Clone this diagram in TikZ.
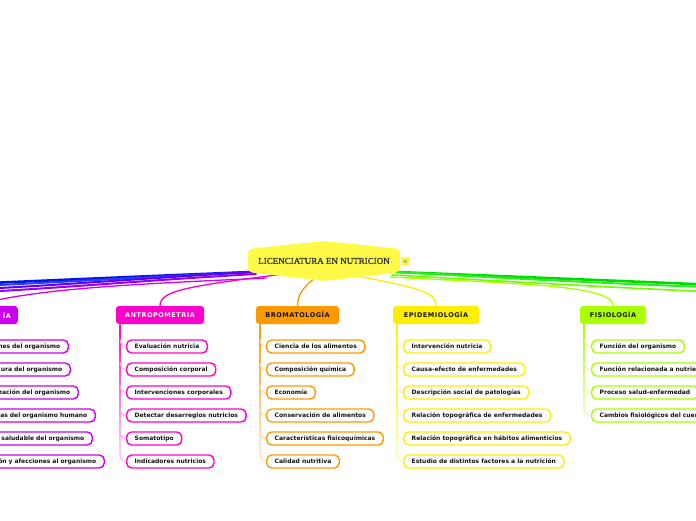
\documentclass[tikz,border=0pt]{standalone}
\usepackage{fontspec}
\setmainfont{DejaVu Sans}
\newfontfamily\topicfont{DejaVu Sans}[LetterSpace=8]
\newfontfamily\rootfont{Liberation Serif}[FakeBold=1.2]
\usetikzlibrary{calc}
\definecolor{cAna}{RGB}{204,0,238}
\definecolor{cAnt}{RGB}{255,0,204}
\definecolor{cBro}{RGB}{255,153,0}
\definecolor{cEpi}{RGB}{255,238,0}
\definecolor{cFis}{RGB}{170,255,0}
\definecolor{cRoot}{RGB}{255,250,72}
\definecolor{cBlueA}{RGB}{0,20,230}
\definecolor{cBlueB}{RGB}{40,60,255}
\definecolor{cVioA}{RGB}{100,0,240}
\definecolor{cVioB}{RGB}{150,0,240}
\definecolor{cGreenA}{RGB}{0,220,0}
\definecolor{cGreenB}{RGB}{40,240,30}
\definecolor{cGreenC}{RGB}{110,255,0}
\definecolor{txt}{RGB}{20,20,20}
\pgfdeclarelayer{background}
\pgfsetlayers{background,main}
\tikzset{
  topicbox/.style={rounded corners=3pt, minimum height=18pt, inner ysep=0pt, inner xsep=7pt,
    font=\topicfont\bfseries\fontsize{6.5}{7}\selectfont},
  itembox/.style={draw=#1, line width=1.4pt, rounded corners=5pt, fill=white, minimum height=13pt,
    inner xsep=8pt, inner ysep=0pt, text=txt, font=\bfseries\fontsize{6}{7}\selectfont},
  branch/.style={draw=#1, line width=1pt},
  conn/.style={line width=1.3pt, line cap=round},
}
\begin{document}
\begin{tikzpicture}[x=1pt,y=-1pt]
\useasboundingbox (0,0) rectangle (696,520);
\clip (0,0) rectangle (696,520);

% root
\fill[cRoot, rounded corners=4pt] (248,249) -- (324,241) -- (400,249) -- (400,272) -- (324,281) -- (248,272) -- cycle;
\node[font=\rootfont\fontsize{9}{10}\selectfont, text=black!80, inner sep=1pt] (root) at (324,261) {LICENCIATURA EN NUTRICION};
\node[fill=cRoot, inner sep=0.5pt, minimum size=9pt, font=\fontsize{6}{6}\selectfont, text=black!55] (icon) at (405.5,261.5) {≡};

\coordinate (rL) at (252,272);
\coordinate (rR) at (396,272);

% topics
\node[topicbox, fill=cAna, text=white, text width=50pt, align=right, anchor=east] (ana) at (18,315) {ÍA};
\node[topicbox, fill=cAnt, text=white, minimum width=88pt] (ant) at (160,315) {ANTROPOMETRIA};
\node[topicbox, fill=cBro, text=txt, minimum width=83pt] (bro) at (297.5,315) {BROMATOLOGÍA};
\node[topicbox, fill=cEpi, text=txt, minimum width=86pt] (epi) at (436,315) {EPIDEMIOLOGÍA};
\node[topicbox, fill=cFis, text=txt, minimum width=66pt] (fis) at (613,315) {FISIOLOGÍA};

% off-canvas ends
\coordinate (offL1) at (-10,283);
\coordinate (offL2) at (-10,285.5);
\coordinate (offL3) at (-10,288.5);
\coordinate (offL4) at (-10,291.5);
\coordinate (anaTop) at (-30,307);
\coordinate (offR1) at (706,284.5);
\coordinate (offR2) at (706,287);
\coordinate (offR3) at (706,291.5);

\begin{pgfonlayer}{background}
  \fill[white] (0,0) rectangle (696,520);
  \draw[conn, cBlueA, line width=2.6pt] (rL) .. controls (150,276) and (60,280) .. (offL1);
  \draw[conn, cBlueB, line width=2pt] (rL) .. controls (150,277) and (60,282) .. (offL2);
  \draw[conn, cVioA, line width=2pt] (rL) .. controls (150,278) and (60,285) .. (offL3);
  \draw[conn, cVioB, line width=2pt] ($(rL)+(4,2)$) .. controls (150,280) and (60,288) .. (offL4);
  \draw[conn, cAna!85!magenta] ($(rL)+(14,6)$) .. controls (140,284) and (30,288) .. (anaTop);
  \draw[conn, cAnt] ($(root.south)+(-34,8)$) .. controls (190,286) and (160,290) .. (ant.north);
  \draw[conn, cBro] ($(root.south)+(-8,12)$) .. controls (302,288) and (298,295) .. (bro.north);
  \draw[conn, cEpi] ($(root.south)+(24,9)$) .. controls (420,288) and (436,292) .. (epi.north);
  \draw[conn, cGreenA, line width=2.6pt] (rR) .. controls (500,276) and (620,281) .. (offR1);
  \draw[conn, cGreenB, line width=2pt] (rR) .. controls (500,278) and (620,284) .. (offR2);
  \draw[conn, cGreenC, line width=1.6pt] ($(rR)+(-4,3)$) .. controls (500,281) and (620,288) .. (offR3);
  \draw[conn, cFis] ($(rR)+(-6,5)$) .. controls (520,284) and (613,285) .. (fis.north);
\end{pgfonlayer}

% ANATOMIA items (cropped)
\foreach \t/\r/\y [count=\i] in {nes del organismo/69/346.5, ura del organismo/71/369.5, zación del organismo/79/392.5, as del organismo humano/96/415.5, saludable del organismo/93/438.5, ón y afecciones al organismo/105/461.5}
  \node[itembox=cAna, text width=150pt, align=right, anchor=east] (ana\i) at (\r,\y) {\t};

% ANTROPOMETRIA items
\shade[top color=cAnt, bottom color=cAnt!15] (119.3,324) rectangle (120.7,456);
\foreach \t/\y [count=\i] in {Evaluación nutricia/346.5, Composición corporal/369.5, Intervenciones corporales/392.5, Detectar desarreglos nutricios/415.5, Somatotipo/438.5, Indicadores nutricios/461.5}
{
  \node[itembox=cAnt, anchor=west] (ant\i) at (126,\y) {\t};
  \draw[branch=cAnt!35] ($(ant\i.west)+(-6,-7)$) to[out=-90,in=180] (ant\i.west);
}

% BROMATOLOGIA items
\shade[top color=cBro, bottom color=cBro!15] (259.3,324) rectangle (260.7,456);
\foreach \t/\y [count=\i] in {Ciencia de los alimentos/346.5, Composición química/369.5, Economía/392.5, Conservación de alimentos/415.5, Características fisicoquímicas/438.5, Calidad nutritiva/461.5}
{
  \node[itembox=cBro, anchor=west] (bro\i) at (266,\y) {\t};
  \draw[branch=cBro!35] ($(bro\i.west)+(-6,-7)$) to[out=-90,in=180] (bro\i.west);
}

% EPIDEMIOLOGIA items
\shade[top color=cEpi, bottom color=cEpi!25] (396.3,324) rectangle (397.7,456);
\foreach \t/\y [count=\i] in {Intervención nutricia/346.5, Causa-efecto de enfermedades/369.5, Descripción social de patologías/392.5, Relación topográfica de enfermedades/415.5, Relación topográfica en hábitos alimenticios/438.5, Estudio de distintos factores a la nutrición/461.5}
{
  \node[itembox=cEpi, anchor=west] (epi\i) at (403,\y) {\t};
  \draw[branch=cEpi!45] ($(epi\i.west)+(-6,-7)$) to[out=-90,in=180] (epi\i.west);
}

% FISIOLOGIA items
\shade[top color=cFis, bottom color=cFis!25] (583.3,324) rectangle (584.7,410);
\node[itembox=cFis, anchor=west] (fis1) at (591,346.5) {Función del organismo};
\node[itembox=cFis, anchor=west, text width=130pt, align=left] (fis2) at (591,369.5) {Función relacionada a nutrien};
\node[itembox=cFis, anchor=west] (fis3) at (591,392.5) {Proceso salud-enfermedad};
\node[itembox=cFis, anchor=west, text width=130pt, align=left] (fis4) at (591,415.5) {Cambios fisiológicos del cuer};
\foreach \i in {1,...,4}
  \draw[branch=cFis!45] ($(fis\i.west)+(-7,-7)$) to[out=-90,in=180] (fis\i.west);
\end{tikzpicture}
\end{document}
